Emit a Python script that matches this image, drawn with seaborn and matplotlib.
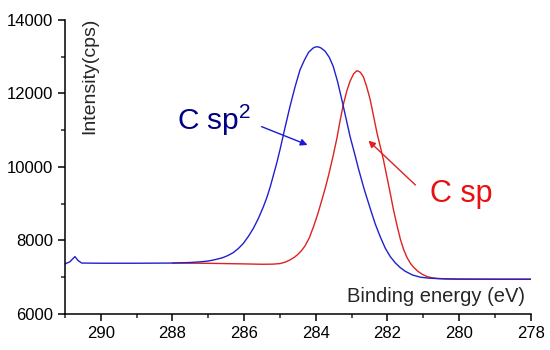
import matplotlib
matplotlib.use("Agg")
import matplotlib.pyplot as plt
import seaborn as sns
import pandas as pd

# Values (binding energy in eV, intensity in cps)
sp2_energy = [291.00, 290.86, 290.72, 290.63, 290.53, 290.00, 289.00, 288.00, 287.50,
              287.20, 287.00, 286.80, 286.60, 286.45, 286.30, 286.16, 286.02, 285.88,
              285.74, 285.60, 285.46, 285.36, 285.27, 285.18, 285.09, 284.99, 284.86,
              284.72, 284.58, 284.44, 284.32, 284.20, 284.08, 284.03, 283.97, 283.91,
              283.85, 283.74, 283.62, 283.51, 283.39, 283.27, 283.15, 283.04, 282.92,
              282.81, 282.65, 282.48, 282.34, 282.20, 282.06, 281.92, 281.78, 281.64,
              281.50, 281.30, 281.08, 280.85, 280.62, 280.30, 280.00, 279.00, 278.00]
sp2_counts = [7360, 7420, 7560, 7450, 7385, 7380, 7380, 7385, 7400,
              7420, 7440, 7480, 7530, 7590, 7670, 7780, 7920, 8110,
              8330, 8600, 8920, 9180, 9460, 9780, 10100, 10500, 11060,
              11640, 12170, 12640, 12900, 13120, 13230, 13258, 13270, 13262,
              13235, 13150, 12980, 12730, 12320, 11820, 11300, 10820, 10380,
              9960, 9400, 8870, 8450, 8100, 7790, 7560, 7390, 7260,
              7160, 7060, 7000, 6975, 6962, 6952, 6948, 6945, 6945]

sp_energy = [288.00, 287.00, 286.00, 285.50, 285.20, 285.00, 284.85, 284.72, 284.60,
             284.50, 284.40, 284.30, 284.18, 284.06, 283.94, 283.83, 283.73, 283.64,
             283.52, 283.41, 283.32, 283.23, 283.13, 283.04, 282.94, 282.85, 282.76,
             282.67, 282.58, 282.48, 282.39, 282.29, 282.20, 282.11, 282.02, 281.92,
             281.83, 281.73, 281.64, 281.55, 281.45, 281.36, 281.27, 281.15, 281.03,
             280.90, 280.76, 280.62, 280.40, 280.00, 279.00, 278.00]
sp_counts = [7385, 7378, 7362, 7352, 7355, 7370, 7410, 7470, 7540,
             7620, 7720, 7850, 8070, 8380, 8730, 9100, 9440, 9780,
             10280, 10780, 11260, 11700, 12080, 12340, 12540, 12620, 12580,
             12450, 12190, 11830, 11400, 10920, 10560, 10190, 9760, 9280,
             8830, 8400, 8040, 7760, 7530, 7380, 7270, 7160, 7080,
             7020, 6985, 6968, 6955, 6948, 6945, 6945]

x_ticks = [290, 288, 286, 284, 282, 280, 278]
y_ticks = [6000, 8000, 10000, 12000, 14000]

sp2_df = pd.DataFrame({"energy": sp2_energy, "counts": sp2_counts})
sp_df = pd.DataFrame({"energy": sp_energy, "counts": sp_counts})

sns.set_style("ticks")
plt.rcParams["font.family"] = ["Liberation Sans", "DejaVu Sans"]
plt.rcParams["mathtext.default"] = "regular"

fig = plt.figure(figsize=(5.5, 3.5), dpi=100)
ax = fig.add_axes([0.118, 0.103, 0.847, 0.84])

# red first, blue drawn on top
sns.lineplot(data=sp_df, x="energy", y="counts", color="#dd2222", lw=1.0,
             estimator=None, ax=ax)
sns.lineplot(data=sp2_df, x="energy", y="counts", color="#2020cc", lw=1.0,
             estimator=None, ax=ax)

ax.set_xlim(291, 278)
ax.set_ylim(6000, 14000)
ax.set_xticks(x_ticks)
ax.set_yticks(y_ticks)
ax.set_xticks([291, 289, 287, 285, 283, 281, 279], minor=True)
ax.set_yticks([7000, 9000, 11000, 13000], minor=True)
ax.tick_params(axis="both", which="major", direction="out", length=5, width=1.1,
               labelsize=12, colors="black")
ax.tick_params(axis="both", which="minor", direction="out", length=3, width=1.1)
sns.despine(ax=ax)
for side in ["left", "bottom"]:
    ax.spines[side].set_linewidth(1.1)
    ax.spines[side].set_color("black")

ax.set_xlabel("Binding energy (eV)", fontsize=14.5)
ax.set_ylabel("Intensity(cps)", fontsize=14)
ax.xaxis.set_label_coords(0.796, 0.058)
ax.xaxis.label.set_va("center")
ax.yaxis.set_label_coords(0.054, 0.81)
ax.yaxis.label.set_va("center")
ax.yaxis.label.set_ha("center")

ax.text(286.84, 11279, "C sp$^{2}$", color="#000080", fontsize=21.5,
        ha="center", va="center")
ax.text(279.94, 9265, "C sp", color="#e81010", fontsize=22,
        ha="center", va="center")

ax.annotate("", xy=(284.23, 10599), xytext=(285.51, 11097),
            arrowprops=dict(arrowstyle="-|>", color="#1a1ad8", lw=1.0,
                            mutation_scale=10, shrinkA=0, shrinkB=0))
ax.annotate("", xy=(282.53, 10716), xytext=(281.22, 9510),
            arrowprops=dict(arrowstyle="-|>", color="#e02020", lw=1.0,
                            mutation_scale=10, shrinkA=0, shrinkB=0))

fig.savefig("out.png", dpi=100)
